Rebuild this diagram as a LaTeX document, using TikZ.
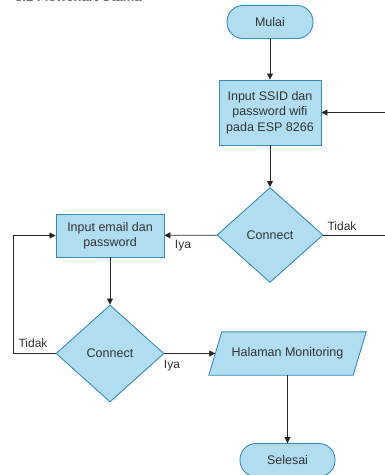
\documentclass[tikz,border=0pt]{standalone}
\usepackage{fontspec}
\setmainfont{Liberation Sans}
\usetikzlibrary{shapes.geometric,arrows.meta,backgrounds}
\definecolor{fillb}{HTML}{B1DDF0}
\definecolor{strokeb}{HTML}{3A8CB5}
\definecolor{txt}{HTML}{333333}
\begin{document}
\begin{tikzpicture}[x=1pt,y=-1pt, font=\fontsize{12.5}{15.5}\selectfont, text=txt,
 blk/.style={draw=strokeb, fill=fillb, line width=0.9pt, align=center, inner sep=0pt},
 term/.style={blk, rectangle, rounded corners=16pt, minimum height=33pt},
 proc/.style={blk, rectangle},
 dec/.style={blk, diamond, minimum width=106pt, minimum height=95pt},
 arr/.style={draw=black!85, line width=0.8pt, -{Triangle[length=6pt,width=6pt]}},
 lbl/.style={font=\fontsize{12}{13}\selectfont, inner sep=0pt}]
\useasboundingbox (0,0) rectangle (385,475);
\node[font=\bfseries\fontsize{13}{15}\selectfont, anchor=base west, inner sep=0pt, text=txt!70] (title) at (15,1.2) {3.2 Flowchart Utama};
\node[term, minimum width=86pt] (start) at (270,22) {Mulai};
\node[proc, minimum width=102pt, minimum height=65pt] (ssid) at (270,112.5) {Input SSID dan\\password wifi\\pada ESP 8266};
\node[dec] (c1) at (270,235) {Connect};
\node[proc, minimum width=108pt, minimum height=43pt, font=\fontsize{12.5}{15}\selectfont] (email) at (110,235.5) {Input email dan\\password};
\node[dec, minimum width=108pt, minimum height=97pt] (c2) at (110,353.5) {Connect};
\node[minimum width=144pt, minimum height=43pt, inner sep=0pt] (hm) at (287.5,353.5) {Halaman Monitoring};
\begin{scope}[on background layer]
\draw[blk] ([xshift=-6.5pt]hm.south west) -- ([xshift=6.5pt]hm.north west) -- ([xshift=6.5pt]hm.north east) -- ([xshift=-6.5pt]hm.south east) -- cycle;
\end{scope}
\node[term, minimum width=95pt] (end) at (287.5,460) {Selesai};
\coordinate (rp) at (395,235);
\coordinate (lp) at (13,353.5);
\draw[arr] (start) -- (ssid);
\draw[arr] (ssid) -- (c1);
\draw[arr] (c1) -- (email);
\draw[arr] (c1.east) -- (rp) |- (ssid.east);
\draw[arr] (email) -- (c2);
\draw[arr] (c2.west) -- (lp) |- (email.west);
\draw[arr] (c2.east) -- (hm.west);
\draw[arr] (hm) -- (end);
\node[lbl] (t1) at (342,226) {Tidak};
\node[lbl] (i1) at (183,246) {Iya};
\node[lbl] (t2) at (33,343) {Tidak};
\node[lbl] (i2) at (172,366) {Iya};
\end{tikzpicture}
\end{document}
